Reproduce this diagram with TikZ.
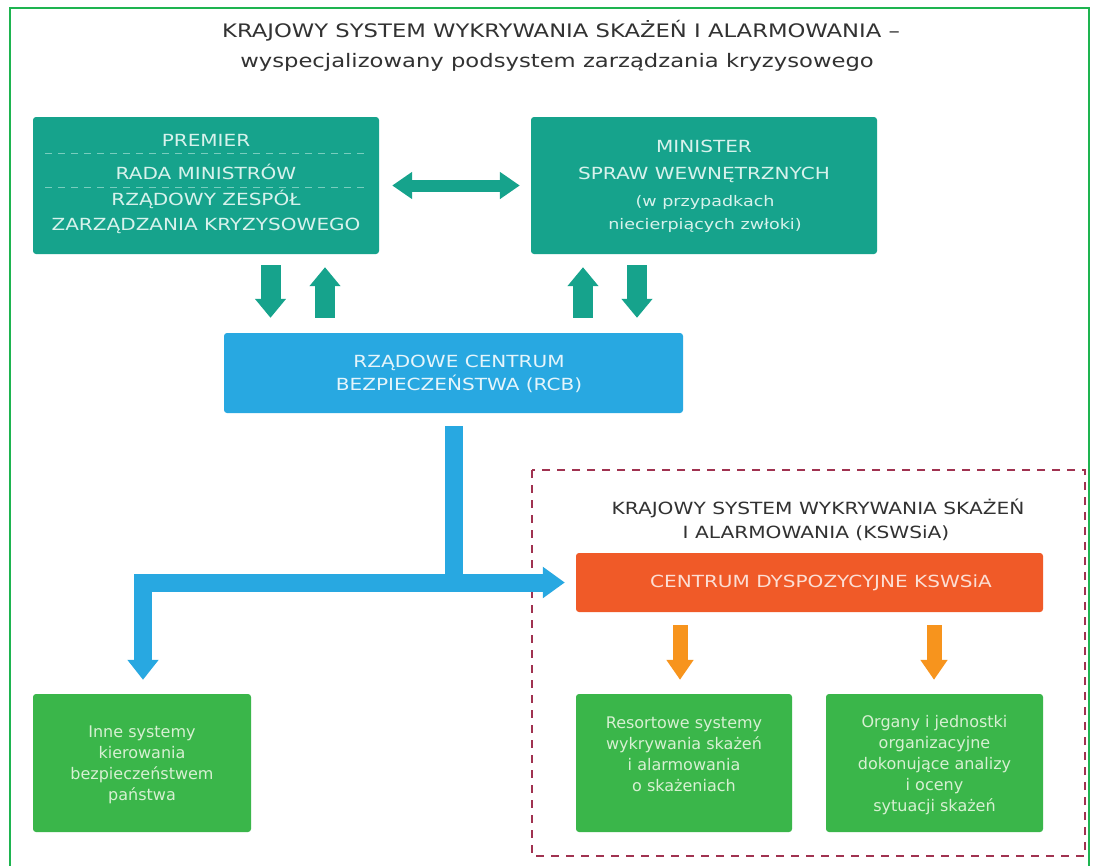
\documentclass[tikz,border=0pt]{standalone}
\usepackage{fontspec}
\setmainfont{DejaVu Sans}
\newfontfamily\titlefont{DejaVu Sans}[FakeStretch=1.22]
\newfontfamily\wfont{DejaVu Sans}[FakeStretch=1.2]
\usetikzlibrary{arrows.meta}
\definecolor{teal1}{RGB}{22,163,140}
\definecolor{blue1}{RGB}{40,168,225}
\definecolor{org1}{RGB}{240,90,40}
\definecolor{amb1}{RGB}{247,148,29}
\definecolor{grn1}{RGB}{58,182,74}
\definecolor{frame1}{RGB}{30,180,80}
\definecolor{dash1}{RGB}{160,50,80}
\definecolor{txtdark}{RGB}{50,50,50}
\definecolor{txtteal}{RGB}{215,242,236}
\definecolor{txtgrn}{RGB}{215,240,210}
\definecolor{septeal}{RGB}{120,205,190}
\begin{document}
\begin{tikzpicture}[x=1pt,y=-1pt,
  boxbase/.style={rounded corners=3pt, inner sep=0pt},
  tealbox/.style={boxbase, fill=teal1},
  bluebox/.style={boxbase, fill=blue1},
  orgbox/.style={boxbase, fill=org1},
  grnbox/.style={boxbase, fill=grn1},
  grntxt/.style={text=txtgrn, align=center, inner sep=0pt,
    font=\fontsize{16}{21}\selectfont},
  tealtxt/.style={text=txtteal, font=\wfont\fontsize{16.7}{25}\selectfont, inner sep=0pt, align=center},
  titletxt/.style={text=txtdark, font=\titlefont\fontsize{18.6}{22}\selectfont, inner sep=0pt},
  tealarrow/.style={teal1, line width=20pt, -{Triangle[width=30pt,length=19pt]}},
  tealdbl/.style={teal1, line width=12pt, {Triangle[width=26pt,length=20pt]}-{Triangle[width=26pt,length=20pt]}},
  blueline/.style={blue1, line width=18pt},
  bluearrows/.style={blue1, line width=18pt, line join=miter,
    {Triangle[width=30pt,length=20pt]}-{Triangle[width=30pt,length=22pt]}},
  ambarrow/.style={amb1, line width=15pt, -{Triangle[width=26pt,length=20pt]}},
  sep/.style={septeal, dash pattern=on 7pt off 6pt, line width=0.8pt}
]
\useasboundingbox (0,0) rectangle (1094,865);
\fill[white] (0,0) rectangle (1094,865);
\draw[frame1, line width=2pt] (10,8) rectangle (1089,880);

% title
\node[titletxt] (title1) at (561,31) {KRAJOWY SYSTEM WYKRYWANIA SKAŻEŃ I ALARMOWANIA –};
\node[titletxt] (title2) at (557,62) {wyspecjalizowany podsystem zarządzania kryzysowego};

% top boxes
\node[tealbox, minimum width=346, minimum height=137] (b1) at (206,185.5) {};
\node[tealtxt] (b1a) at (206,140) {PREMIER};
\node[tealtxt] (b1b) at (206,172) {RADA MINISTRÓW};
\node[tealtxt] (b1c) at (206,212) {RZĄDOWY ZESPÓŁ\\ZARZĄDZANIA KRYZYSOWEGO};
\draw[sep] (45,153) -- (370,153);
\draw[sep] (45,187) -- (370,187);

\node[tealbox, minimum width=346, minimum height=137] (b2) at (704,185.5) {};
\node[tealtxt, font=\wfont\fontsize{16.7}{27}\selectfont] (b2a) at (704,161.5) {MINISTER\\SPRAW WEWNĘTRZNYCH};
\node[tealtxt, font=\wfont\fontsize{14.6}{23}\selectfont] (b2b) at (705,214) {(w przypadkach\\niecierpiących zwłoki)};

\draw[tealdbl] ([xshift=13pt]b1.east) -- ([xshift=-11pt]b2.west);

% RCB
\node[bluebox, minimum width=459, minimum height=80] (rcb) at (453.5,373) {};
\node[tealtxt, text=white!88!blue1, font=\wfont\fontsize{16.7}{23}\selectfont] (rcbt) at (459,373.5) {RZĄDOWE CENTRUM\\BEZPIECZEŃSTWA (RCB)};

\coordinate (xa) at (270.5,0);
\coordinate (xb) at (325,0);
\coordinate (xc) at (583,0);
\coordinate (xd) at (637,0);
\draw[tealarrow] ([yshift=-11pt]b1.south -| xa) -- ([yshift=15pt]rcb.north -| xa);
\draw[tealarrow] ([yshift=15pt]rcb.north -| xb) -- ([yshift=-13pt]b1.south -| xb);
\draw[tealarrow] ([yshift=15pt]rcb.north -| xc) -- ([yshift=-13pt]b2.south -| xc);
\draw[tealarrow] ([yshift=-11pt]b2.south -| xd) -- ([yshift=15pt]rcb.north -| xd);

% KSWSiA frame
\draw[dash1, line width=2pt, dash pattern=on 8pt off 7pt] (532,470) rectangle (1085,856);
\node[text=txtdark, inner sep=0pt, font=\wfont\fontsize{16.8}{20}\selectfont] (kt1) at (818,508) {KRAJOWY SYSTEM WYKRYWANIA SKAŻEŃ};
\node[text=txtdark, inner sep=0pt, font=\wfont\fontsize{16.8}{20}\selectfont] (kt2) at (816,533) {I ALARMOWANIA (KSWSiA)};

\node[orgbox, minimum width=467, minimum height=59] (cd) at (809.5,582.5) {};
\node[tealtxt, text=white!80!org1] (cdt) at (821,582.5) {CENTRUM DYSPOZYCYJNE KSWSiA};

% bottom boxes
\node[grnbox, minimum width=218, minimum height=138] (inne) at (142,763) {};
\node[grntxt] (innet) at (142,765) {Inne systemy\\kierowania\\bezpieczeństwem\\państwa};
\node[grnbox, minimum width=216, minimum height=138] (res) at (684,763) {};
\node[grntxt] (rest) at (684,754) {Resortowe systemy\\wykrywania skażeń\\i alarmowania\\o skażeniach};
\node[grnbox, minimum width=217, minimum height=138] (org) at (934.5,763) {};
\node[grntxt] (orgt) at (934.5,765) {Organy i jednostki\\organizacyjne\\dokonujące analizy\\i oceny\\sytuacji skażeń};

% blue connectors
\coordinate (j) at (rcb.south |- cd.west);
\coordinate (xl) at (143,0);
\draw[blueline] ([yshift=-13pt]rcb.south) -- (j);
\draw[bluearrows] ([yshift=14pt]inne.north -| xl) |- (j) -- ([xshift=-11pt]cd.west);

% amber arrows
\coordinate (xe) at (680,0);
\coordinate (xf) at (934,0);
\draw[ambarrow] ([yshift=-13pt]cd.south -| xe) -- ([yshift=14pt]res.north -| xe);
\draw[ambarrow] ([yshift=-13pt]cd.south -| xf) -- ([yshift=14pt]org.north -| xf);
\end{tikzpicture}
\end{document}
